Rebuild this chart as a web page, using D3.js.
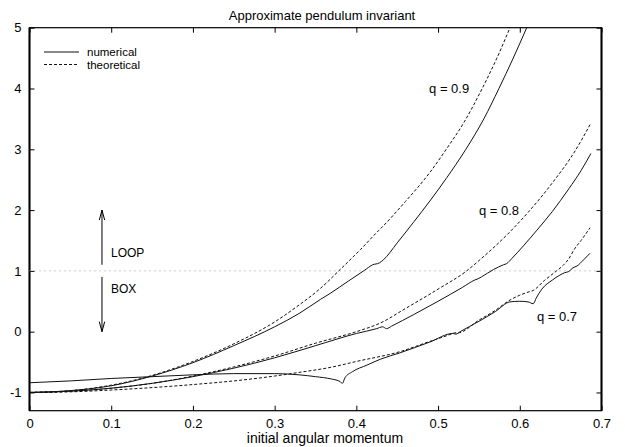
<!DOCTYPE html>
<html>
<head>
<meta charset="utf-8">
<script src="https://cdn.jsdelivr.net/npm/d3@7"></script>
<style>
  html, body { margin: 0; padding: 0; background: #fff; }
  svg { display: block; }
  text { font-family: "Liberation Sans", Arial, Helvetica, sans-serif; fill: #000; }
</style>
</head>
<body>
<svg id="chart" width="625" height="447"></svg>
<script>
// Approximate pendulum invariant vs. initial angular momentum, for three q values.
const xTicks = [0, 0.1, 0.2, 0.3, 0.4, 0.5, 0.6, 0.7];
const yTicks = [-1, 0, 1, 2, 3, 4, 5];

// q = 0.9
const q09Numerical = [
  [0,-1],[0.05,-0.97],[0.1,-0.89],[0.15,-0.73],[0.2,-0.51],[0.25,-0.23],[0.3,0.08],
  [0.33,0.3],[0.356,0.53],[0.368,0.63],[0.39,0.83],[0.41,1.01],[0.42,1.1],[0.428,1.13],
  [0.433,1.18],[0.45,1.46],[0.47,1.8],[0.49,2.15],[0.51,2.52],[0.534,3.0],[0.556,3.5],
  [0.5745,4.0],[0.592,4.5],[0.6085,5.0]
];
const q09Theoretical = [
  [0,-1],[0.05,-0.97],[0.1,-0.88],[0.15,-0.72],[0.2,-0.49],[0.25,-0.2],[0.3,0.16],
  [0.33,0.44],[0.355,0.7],[0.38,1.02],[0.405,1.35],[0.427,1.66],[0.43,1.7],[0.46,2.14],
  [0.49,2.62],[0.51,3.0],[0.532,3.45],[0.554,4.0],[0.572,4.5],[0.588,5.0]
];

// q = 0.8
const q08Numerical = [
  [0,-1],[0.05,-0.98],[0.1,-0.93],[0.15,-0.85],[0.2,-0.74],[0.25,-0.6],[0.3,-0.43],
  [0.35,-0.23],[0.4,-0.03],[0.425,0.05],[0.432,0.08],[0.437,0.05],[0.443,0.09],[0.47,0.28],
  [0.5,0.5],[0.53,0.73],[0.545,0.85],[0.549,0.87],[0.553,0.9],[0.5676,1.02],[0.58,1.1],
  [0.584,1.12],[0.59,1.2],[0.605,1.42],[0.621,1.67],[0.64,1.98],[0.66,2.35],[0.675,2.65],
  [0.687,2.93]
];
const q08Theoretical = [
  [0,-1],[0.05,-0.98],[0.1,-0.93],[0.15,-0.85],[0.2,-0.73],[0.25,-0.58],[0.3,-0.4],
  [0.35,-0.19],[0.4,0.0],[0.429,0.14],[0.46,0.38],[0.5,0.7],[0.535,1.0],[0.551,1.18],
  [0.59,1.67],[0.61,1.96],[0.64,2.45],[0.668,2.98],[0.687,3.43]
];

// q = 0.7
const q07Numerical = [
  [0,-0.84],[0.05,-0.81],[0.1,-0.77],[0.15,-0.74],[0.2,-0.71],[0.25,-0.69],[0.3,-0.69],
  [0.33,-0.71],[0.35,-0.74],[0.37,-0.78],[0.38,-0.82],[0.383,-0.85],[0.386,-0.76],
  [0.395,-0.66],[0.413,-0.55],[0.43,-0.45],[0.453,-0.35],[0.49,-0.17],[0.518,-0.03],
  [0.522,-0.04],[0.527,0.0],[0.55,0.17],[0.57,0.33],[0.588,0.49],[0.6,0.5],[0.61,0.49],
  [0.6166,0.46],[0.62,0.55],[0.627,0.7],[0.64,0.85],[0.649,0.93],[0.655,0.97],[0.66,0.99],
  [0.665,1.05],[0.67,1.08],[0.678,1.18],[0.686,1.29]
];
const q07Theoretical = [
  [0,-1],[0.05,-0.99],[0.1,-0.96],[0.15,-0.92],[0.2,-0.87],[0.25,-0.81],[0.3,-0.73],
  [0.33,-0.67],[0.371,-0.58],[0.4,-0.49],[0.453,-0.33],[0.49,-0.16],[0.516,-0.04],
  [0.52,-0.02],[0.524,-0.02],[0.55,0.19],[0.57,0.35],[0.588,0.52],[0.6,0.6],[0.61,0.65],
  [0.6166,0.68],[0.63,0.84],[0.645,1.0],[0.653,1.09],[0.66,1.2],[0.667,1.36],[0.675,1.5],
  [0.686,1.71]
];

const seriesList = [
  { data: q09Numerical, dashed: false },
  { data: q09Theoretical, dashed: true },
  { data: q08Numerical, dashed: false },
  { data: q08Theoretical, dashed: true },
  { data: q07Numerical, dashed: false },
  { data: q07Theoretical, dashed: true }
];

const curveLabels = [
  { text: "q = 0.9", x: 0.489, y: 4.0 },
  { text: "q = 0.8", x: 0.55, y: 2.0 },
  { text: "q = 0.7", x: 0.621, y: 0.25 }
];

const legendItems = [
  { text: "numerical", dashed: false },
  { text: "theoretical", dashed: true }
];

const boundary = 1;          // LOOP / BOX separatrix level
const arrowX = 0.0887;

const svg = d3.select("#chart");
const plotLeft = 29.5, plotRight = 601.5, plotTop = 27.7, plotBottom = 410.7;

const x = d3.scaleLinear().domain([0, 0.7]).range([plotLeft, plotRight]);
const y = d3.scaleLinear().domain([-1.3, 5]).range([plotBottom, plotTop]);

svg.append("defs").append("clipPath").attr("id", "plotClip")
  .append("rect").attr("x", plotLeft).attr("y", plotTop)
  .attr("width", plotRight - plotLeft).attr("height", plotBottom - plotTop);

// Title and axis label
svg.append("text").attr("x", 322).attr("y", 19.5).attr("text-anchor", "middle")
  .style("font-size", "13px").text("Approximate pendulum invariant");
svg.append("text").attr("x", 325).attr("y", 442.5).attr("text-anchor", "middle")
  .style("font-size", "14px").text("initial angular momentum");

// Axes with inward ticks on all four sides
const tickLen = 5;
const axBottom = svg.append("g").attr("transform", `translate(0,${plotBottom})`)
  .call(d3.axisBottom(x).tickValues(xTicks).tickSize(-tickLen).tickPadding(8)
    .tickFormat(d => d === 0 ? "0" : d3.format(".1f")(d)));
const axTop = svg.append("g").attr("transform", `translate(0,${plotTop})`)
  .call(d3.axisTop(x).tickValues(xTicks).tickSize(-tickLen).tickFormat(""));
const axLeft = svg.append("g").attr("transform", `translate(${plotLeft},0)`)
  .call(d3.axisLeft(y).tickValues(yTicks).tickSize(-tickLen).tickPadding(8)
    .tickFormat(d => String(d)));
const axRight = svg.append("g").attr("transform", `translate(${plotRight},0)`)
  .call(d3.axisRight(y).tickValues(yTicks).tickSize(-tickLen).tickFormat(""));

[axBottom, axTop, axLeft, axRight].forEach(g => {
  g.select(".domain").remove();
  g.selectAll(".tick line").attr("stroke", "#000").attr("stroke-width", 1);
  g.selectAll("text").style("font-size", "13px").attr("fill", "#000");
});
axBottom.selectAll("text").attr("dy", "0.71em");

// Frame: heavier verticals, lighter horizontals
svg.append("rect").attr("x", plotLeft).attr("y", plotTop)
  .attr("width", plotRight - plotLeft).attr("height", plotBottom - plotTop)
  .attr("fill", "none").attr("stroke", "#000").attr("stroke-width", 1.2);
[plotLeft, plotRight].forEach(px => {
  svg.append("line").attr("x1", px).attr("x2", px).attr("y1", plotTop).attr("y2", plotBottom)
    .attr("stroke", "#000").attr("stroke-width", 2);
});

// Separatrix level
svg.append("line")
  .attr("x1", x(0)).attr("x2", x(0.7))
  .attr("y1", y(boundary)).attr("y2", y(boundary))
  .attr("stroke", "#999").attr("stroke-width", 1).attr("stroke-dasharray", "1,4");

// Curves
const line = d3.line().x(d => x(d[0])).y(d => y(d[1])).curve(d3.curveMonotoneX);
const plot = svg.append("g").attr("clip-path", "url(#plotClip)");
plot.selectAll("path.series").data(seriesList).join("path")
  .attr("class", "series")
  .attr("d", d => line(d.data))
  .attr("fill", "none")
  .attr("stroke", "#111")
  .attr("stroke-width", 1)
  .attr("stroke-dasharray", d => d.dashed ? "3,2" : null);

// Curve labels
svg.selectAll("text.qlabel").data(curveLabels).join("text")
  .attr("class", "qlabel")
  .attr("x", d => x(d.x)).attr("y", d => y(d.y)).attr("dy", "0.35em")
  .style("font-size", "13px").text(d => d.text);

// LOOP / BOX arrows
function arrow(y0, y1) {
  const ax = x(arrowX), p0 = y(y0), p1 = y(y1);
  const dir = p1 < p0 ? 1 : -1;
  svg.append("line").attr("x1", ax).attr("x2", ax).attr("y1", p0).attr("y2", p1)
    .attr("stroke", "#000").attr("stroke-width", 1);
  svg.append("path")
    .attr("d", `M${ax - 2.7},${p1 + dir * 10}L${ax},${p1}L${ax + 2.7},${p1 + dir * 10}`)
    .attr("fill", "none").attr("stroke", "#000").attr("stroke-width", 1);
}
arrow(1.1, 2.0);
arrow(0.9, 0.0);
svg.append("text").attr("x", x(arrowX) + 9).attr("y", y(1.3)).attr("dy", "0.35em")
  .style("font-size", "12px").text("LOOP");
svg.append("text").attr("x", x(arrowX) + 9).attr("y", y(0.7)).attr("dy", "0.35em")
  .style("font-size", "12px").text("BOX");

// Legend
const legend = svg.append("g").attr("transform", `translate(${plotLeft + 14.5},52)`);
legendItems.forEach((item, i) => {
  const g = legend.append("g").attr("transform", `translate(0,${i * 12.5})`);
  g.append("line").attr("x1", 0).attr("x2", 35).attr("y1", 0).attr("y2", 0)
    .attr("stroke", "#111").attr("stroke-width", 1)
    .attr("stroke-dasharray", item.dashed ? "3,2" : null);
  g.append("text").attr("x", 43).attr("y", 0).attr("dy", "0.35em")
    .style("font-size", "11.5px").text(item.text);
});
</script>
</body>
</html>
